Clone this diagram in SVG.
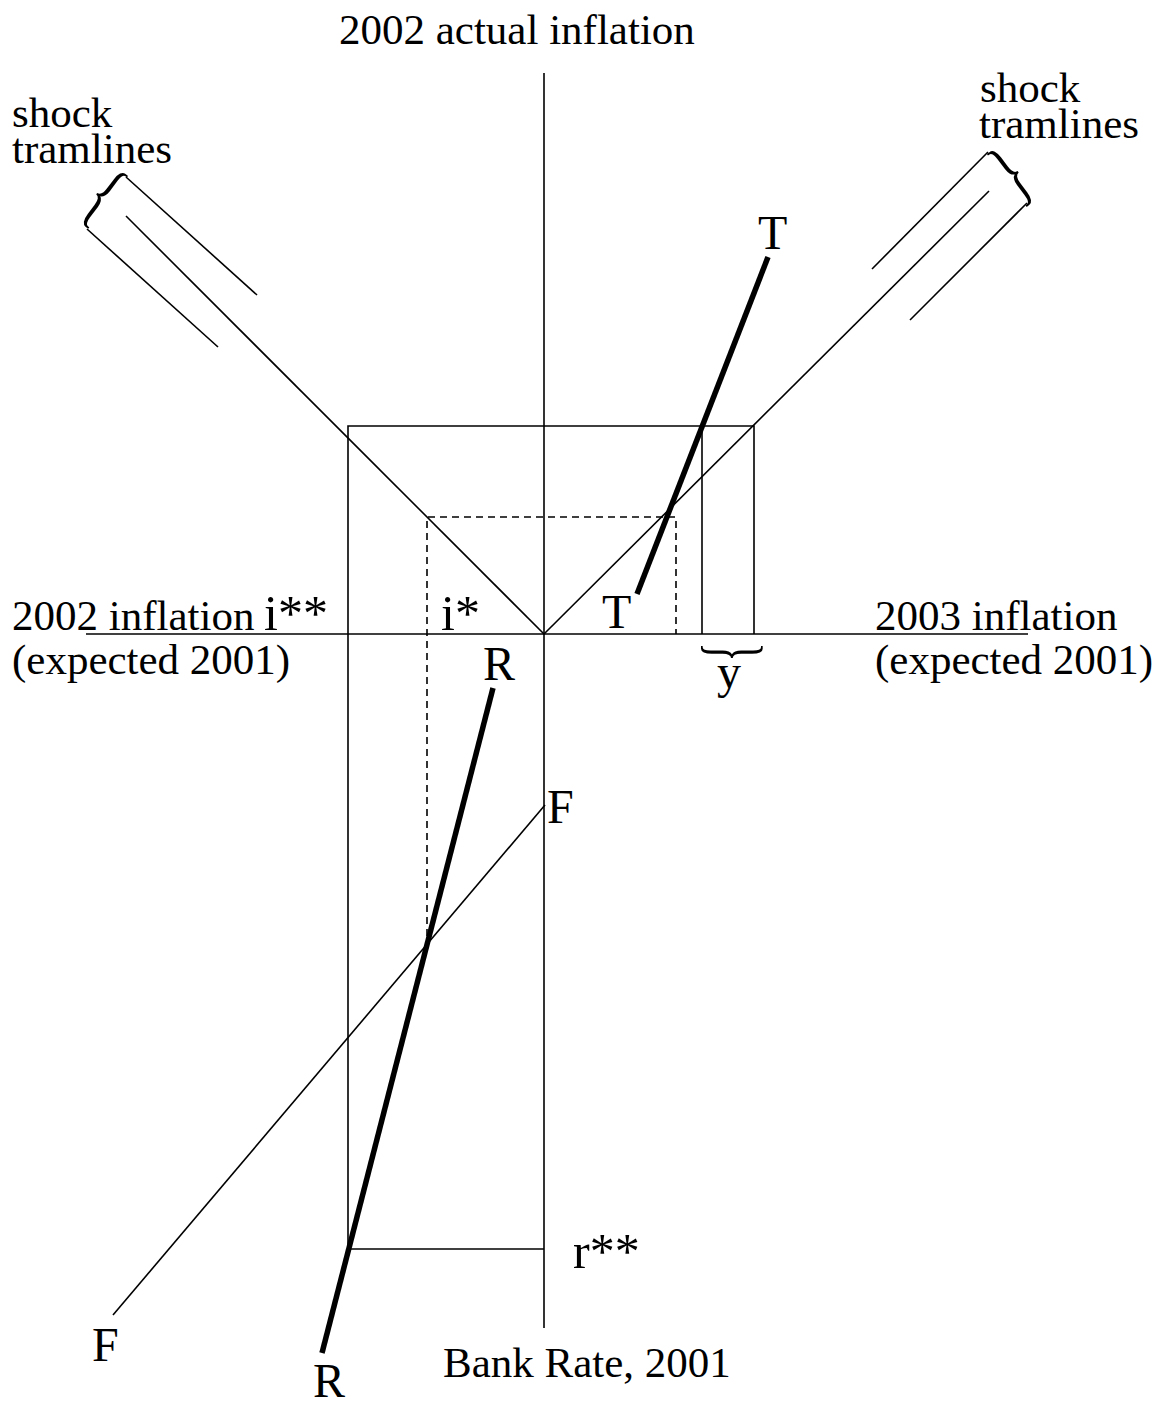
<svg xmlns="http://www.w3.org/2000/svg" width="1168" height="1405" viewBox="0 0 1168 1405">
<style>
.t{font-family:"Liberation Serif","Times New Roman",serif;font-size:43px;fill:#000}
.L{font-family:"Liberation Serif","Times New Roman",serif;font-size:48px;fill:#000}
.S{font-family:"Liberation Serif","Times New Roman",serif;font-size:50px;fill:#000}
.b{font-family:"Liberation Serif","Times New Roman",serif;fill:#000}
.thin{stroke:#000;stroke-width:1.6;fill:none}
.thick{stroke:#000;stroke-width:5.5;fill:none}
.dash{stroke:#000;stroke-width:1.6;fill:none;stroke-dasharray:7,5}
</style>
<rect width="1168" height="1405" fill="#fff"/>
<g id="connectors">
  <line class="thin" x1="544" y1="73" x2="544" y2="1328"/>
  <line class="thin" x1="86" y1="634" x2="1028" y2="634"/>
  <line class="thin" x1="126" y1="216" x2="544" y2="634"/>
  <line class="thin" x1="989" y1="191" x2="544" y2="634"/>
  <line class="thin" x1="126" y1="177" x2="257" y2="295"/>
  <line class="thin" x1="87" y1="229" x2="218" y2="347"/>
  <line class="thin" x1="988" y1="152" x2="872" y2="269"/>
  <line class="thin" x1="1027" y1="203" x2="910" y2="320"/>
  <polyline class="thin" points="348,1249 348,426 754,426 754,634"/>
  <line class="thin" x1="702" y1="426" x2="702" y2="634"/>
  <line class="thin" x1="348" y1="1249" x2="544" y2="1249"/>
  <polyline class="dash" points="427,948 427,517 676,517 676,634"/>
  <line class="thin" x1="545" y1="805" x2="113" y2="1315"/>
  <line class="thick" x1="768" y1="257" x2="637" y2="594"/>
  <line class="thick" x1="493" y1="688" x2="322" y2="1353"/>
</g>
<g id="braces">
  <text class="b" font-size="80" text-anchor="middle" transform="translate(101,200) rotate(37) scale(0.6,1)" dy="20">{</text>
  <text class="b" font-size="80" text-anchor="middle" transform="translate(1014,178) rotate(-37) scale(0.6,1)" dy="20">}</text>
  <text class="b" font-size="74" text-anchor="middle" transform="translate(729,652) rotate(90) scale(0.55,1)" dy="18">}</text>
</g>
<g id="labels">
  <text class="t" x="339" y="44">2002 actual inflation</text>
  <text class="t" x="12" y="127">shock</text>
  <text class="t" x="12" y="163">tramlines</text>
  <text class="t" x="980" y="102">shock</text>
  <text class="t" x="979" y="138">tramlines</text>
  <text class="t" x="12" y="630">2002 inflation</text>
  <text class="S" x="264" y="630">i**</text>
  <text class="t" x="12" y="674">(expected 2001)</text>
  <text class="S" x="441" y="630">i*</text>
  <text class="L" x="602" y="628">T</text>
  <text class="L" x="483" y="680">R</text>
  <text class="t" x="875" y="630">2003 inflation</text>
  <text class="t" x="875" y="674">(expected 2001)</text>
  <text class="L" x="717" y="688">y</text>
  <text class="L" x="758" y="249">T</text>
  <text class="L" x="547" y="823">F</text>
  <text class="L" x="92" y="1361">F</text>
  <text class="L" x="313" y="1397">R</text>
  <text class="S" x="573" y="1268">r**</text>
  <text class="t" x="443" y="1377">Bank Rate, 2001</text>
</g>
</svg>
